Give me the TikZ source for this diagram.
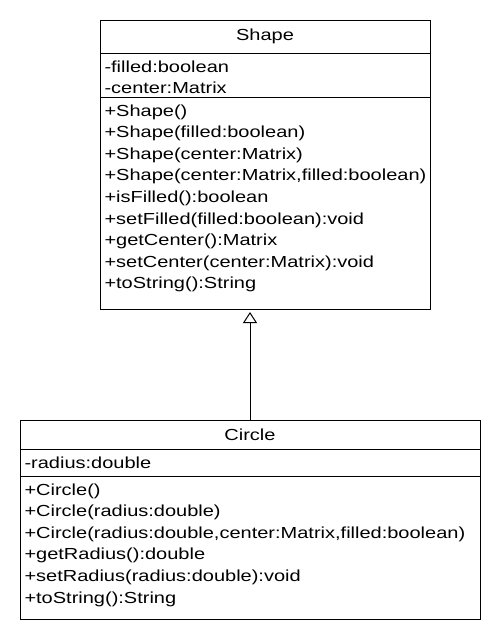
\documentclass[tikz,border=0pt]{standalone}
\usepackage{fontspec}
\setmainfont{Liberation Sans}[FakeStretch=1.25]
\usetikzlibrary{positioning, arrows.meta}

\begin{document}
\begin{tikzpicture}[x=1pt, y=-1pt, line width=1pt,
    part/.style={draw, inner sep=0pt, outer sep=0pt, font=\fontsize{16}{19}\selectfont},
    member/.style={anchor=base west, inner sep=0pt, font=\fontsize{16}{19}\selectfont},
    extends/.style={-{Triangle[open, width=14pt, length=11pt]}, shorten >=3pt}]
    \useasboundingbox (0,0) rectangle (500,640);

    % Shape
    \node[part, minimum width=330pt, minimum height=32.5pt, anchor=north west] at (100,20.5) (shapeName) {Shape};
    \node[part, minimum width=330pt, minimum height=44pt, below=0pt of shapeName] (shapeAttrs) {};
    \node[part, minimum width=330pt, minimum height=212pt, below=0pt of shapeAttrs] (shapeOps) {};

    \foreach \m [count=\i] in {{-filled:boolean}, {-center:Matrix}}
        \node[member] (shapeAttr\i) at ([shift={(4,\i*21.6-2.6)}]shapeAttrs.north west) {\m};
    \foreach \m [count=\i] in {{+Shape()}, {+Shape(filled:boolean)}, {+Shape(center:Matrix)},
            {+Shape(center:Matrix,filled:boolean)}, {+isFilled():boolean},
            {+setFilled(filled:boolean):void}, {+getCenter():Matrix},
            {+setCenter(center:Matrix):void}, {+toString():String}}
        \node[member] (shapeOp\i) at ([shift={(4,\i*21.6-2.6)}]shapeOps.north west) {\m};

    % Circle
    \node[part, minimum width=460pt, minimum height=29pt, anchor=north west] at (20,420) (circleName) {Circle};
    \node[part, minimum width=460pt, minimum height=27pt, below=0pt of circleName] (circleAttrs) {};
    \node[part, minimum width=460pt, minimum height=143pt, below=0pt of circleAttrs] (circleOps) {};

    \node[member] (circleAttr1) at ([shift={(4,19)}]circleAttrs.north west) {-radius:double};
    \foreach \m [count=\i] in {{+Circle()}, {+Circle(radius:double)},
            {+Circle(radius:double,center:Matrix,filled:boolean)}, {+getRadius():double},
            {+setRadius(radius:double):void}, {+toString():String}}
        \node[member] (circleOp\i) at ([shift={(4,\i*21.6-2.6)}]circleOps.north west) {\m};

    % inheritance
    \draw[extends] (circleName.north) -- (circleName.north |- shapeOps.south);
\end{tikzpicture}
\end{document}
